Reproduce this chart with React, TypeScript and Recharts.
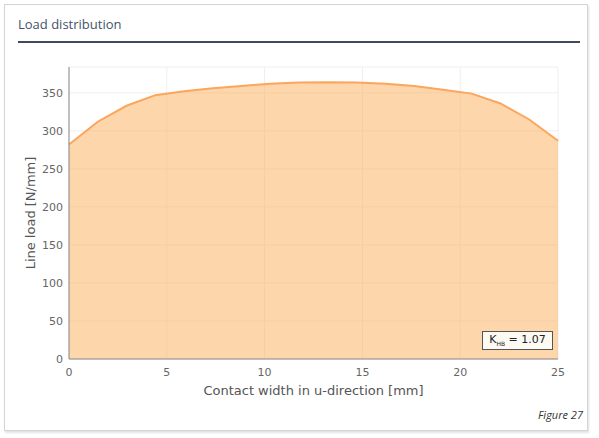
import React from "react";
import { AreaChart, Area, XAxis, YAxis, CartesianGrid } from "recharts";

// contact width positions [mm] (17 equal segments across 25 mm)
const widths = [0, 1.47, 2.94, 4.41, 5.88, 7.35, 8.82, 10.29, 11.76, 13.24, 14.71, 16.18, 17.65, 19.12, 20.59, 22.06, 23.53, 25];
// line load [N/mm]
const loads = [282, 312, 333, 347, 352, 356, 359, 362, 363.5, 364, 363.5, 362, 359, 354, 349, 336, 315, 287];

const xTicks = [0, 5, 10, 15, 20, 25];
const yTicks = [0, 50, 100, 150, 200, 250, 300, 350];

const data = widths.map((w, i) => ({ w, load: loads[i] }));

const FONT = "'DejaVu Sans', Verdana, sans-serif";

export default function App() {
  return (
    <div style={{ position: "absolute", left: 0, top: 0, width: 599, height: 438, background: "#fff", fontFamily: FONT }}>
      <div
        style={{
          position: "absolute", left: 4, top: 4, width: 582, height: 425,
          border: "1px solid #d4d4d4", boxShadow: "1px 2px 2px rgba(0,0,0,0.12)", background: "#fff",
        }}
      />
      <div style={{ position: "absolute", left: 18, top: 15, fontFamily: "'Open Sans', sans-serif", fontSize: 13, color: "#44536a" }}>
        Load distribution
      </div>
      <div style={{ position: "absolute", left: 18, top: 41, width: 562, height: 2, background: "#3f4b5b" }} />

      <div style={{ position: "absolute", left: 0, top: 0 }}>
        <AreaChart width={599} height={438} data={data} margin={{ top: 67, right: 41, bottom: 49, left: 39 }}>
          <CartesianGrid stroke="#eeeeee" strokeWidth={1} />
          <XAxis
            dataKey="w"
            type="number"
            domain={[0, 25]}
            ticks={xTicks}
            interval={0}
            height={30}
            tickLine={false}
            axisLine={{ stroke: "#888", strokeWidth: 1 }}
            tick={{ fontSize: 11, fill: "#666", fontFamily: FONT }}
            tickMargin={3}
            label={{ value: "Contact width in u-direction [mm]", position: "insideBottom", offset: -6, fontSize: 13, fill: "#555", fontFamily: FONT }}
          />
          <YAxis
            type="number"
            domain={[0, 384]}
            ticks={yTicks}
            interval={0}
            width={30}
            tickLine={false}
            axisLine={{ stroke: "#888", strokeWidth: 1 }}
            tick={{ fontSize: 11, fill: "#666", fontFamily: FONT }}
            tickMargin={0}
            label={{ value: "Line load [N/mm]", angle: -90, position: "insideLeft", offset: -9, fontSize: 13, fill: "#555", fontFamily: FONT, style: { textAnchor: "middle" } }}
          />
          <Area
            type="linear"
            dataKey="load"
            stroke="#fba65c"
            strokeWidth={2}
            fill="#fcad5a"
            fillOpacity={0.5}
            dot={false}
            activeDot={false}
            isAnimationActive={false}
          />
        </AreaChart>
      </div>

      <div
        style={{
          position: "absolute", left: 482, top: 331, width: 69, height: 17,
          border: "1px solid #555", background: "#fdf9f3", fontSize: 11, color: "#222",
          display: "flex", alignItems: "center", justifyContent: "center", lineHeight: 1,
        }}
      >
        <span>K<sub style={{ fontSize: 6 }}>HB</sub> = 1.07</span>
      </div>

      <div style={{ position: "absolute", right: 16, top: 407, fontFamily: "'Open Sans', sans-serif", fontStyle: "italic", fontSize: 11, color: "#333" }}>
        Figure 27
      </div>
    </div>
  );
}
